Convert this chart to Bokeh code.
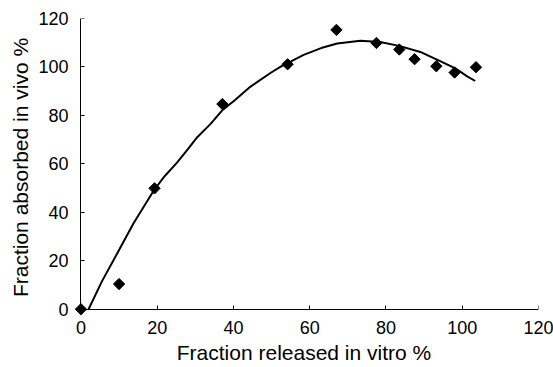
import numpy as np
from bokeh.plotting import figure
from bokeh.models import Range1d, FixedTicker, LinearAxis
from bokeh.embed import file_html
from bokeh.resources import INLINE

# Observed data points (fraction released in vitro %, fraction absorbed in vivo %)
released = [0, 10.0, 19.3, 37.1, 54.2, 67.0, 77.5, 83.5, 87.5, 93.2, 98.0, 103.6]
absorbed = [0, 10.4, 49.9, 84.7, 101.1, 115.3, 109.9, 107.2, 103.2, 100.3, 97.7, 99.9]

# Fitted curve
curve_x = [2.0, 5.5, 9.5, 13.8, 19.1, 22.0, 25.2, 28.0, 30.5, 34.0, 37.0,
           40.5, 44.4, 49.7, 52.3, 58.4, 63.0, 67.2, 73.3, 78.5, 83.7, 89.0,
           94.2, 98.2, 101.2, 103.4]
curve_y = [0.0, 11.5, 23.0, 35.5, 49.0, 55.0, 60.5, 66.0, 71.0, 76.5, 82.0,
           86.5, 91.8, 97.5, 100.0, 105.0, 107.8, 109.7, 110.8, 110.3, 108.6, 106.2,
           102.4, 99.4, 96.2, 94.2]

x_ticks = [0, 20, 40, 60, 80, 100, 120]
y_ticks = [0, 20, 40, 60, 80, 100, 120]
x_title = "Fraction released in vitro %"
y_title = "Fraction absorbed in vivo %"

FONT = "Liberation Sans"

p = figure(width=553, height=367, output_backend="svg", toolbar_location=None,
           x_axis_type=None, y_axis_type=None,
           x_range=Range1d(-3, 120), y_range=Range1d(-3, 120),
           min_border_left=69, min_border_right=15, min_border_top=18,
           min_border_bottom=51)
p.outline_line_color = None
p.xgrid.visible = False
p.ygrid.visible = False
p.background_fill_color = "white"
p.border_fill_color = "white"

# axis lines and ticks placed at data zero
xa = LinearAxis(ticker=FixedTicker(ticks=x_ticks), bounds=(0, 120), fixed_location=0)
ya = LinearAxis(ticker=FixedTicker(ticks=y_ticks), bounds=(0, 120), fixed_location=0)
for ax in (xa, ya):
    ax.axis_line_color = "black"
    ax.axis_line_width = 1
    ax.major_tick_line_color = "black"
    ax.major_tick_in = 4
    ax.major_tick_out = 0
    ax.minor_tick_line_color = None
    ax.major_label_text_color = None
p.add_layout(xa, "below")
p.add_layout(ya, "left")

# labels on frame-edge axes
xl = LinearAxis(ticker=FixedTicker(ticks=x_ticks), axis_label=x_title)
yl = LinearAxis(ticker=FixedTicker(ticks=y_ticks), axis_label=y_title)
for ax in (xl, yl):
    ax.axis_line_color = None
    ax.major_tick_line_color = None
    ax.minor_tick_line_color = None
    ax.major_tick_in = 0
    ax.major_tick_out = 0
    ax.major_label_text_font = FONT
    ax.major_label_text_font_size = "18px"
    ax.major_label_text_color = "black"
    ax.axis_label_text_font = FONT
    ax.axis_label_text_font_size = "21px"
    ax.axis_label_text_font_style = "normal"
    ax.axis_label_text_color = "black"
xl.major_label_standoff = 4
xl.axis_label_standoff = 4
yl.major_label_standoff = 1
yl.axis_label_standoff = 3
p.add_layout(xl, "below")
p.add_layout(yl, "left")

p.line(curve_x, curve_y, line_color="black", line_width=2)
p.scatter(released, absorbed, marker="square", angle=np.pi / 4, size=8,
          fill_color="black", line_color="black")

open("out.html", "w").write(file_html(p, INLINE))
